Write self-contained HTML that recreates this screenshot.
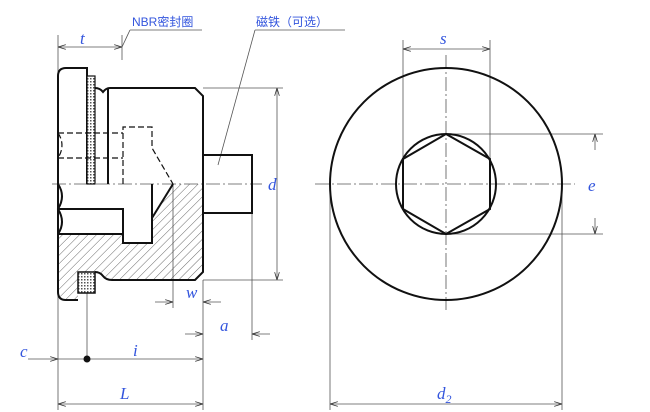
<!DOCTYPE html>
<html><head><meta charset="utf-8"><style>
html,body{margin:0;padding:0;background:#fff;}
svg{display:block;}
.t{font-family:"Liberation Serif",serif;font-style:italic;fill:#3355dd;font-size:17px;}
.c{font-family:"Liberation Sans","Noto Sans CJK SC",sans-serif;fill:#3355dd;font-size:12px;}
</style></head><body>
<svg width="650" height="412" viewBox="0 0 650 412" xmlns="http://www.w3.org/2000/svg">
<defs>
<pattern id="h" width="6" height="6" patternUnits="userSpaceOnUse" patternTransform="rotate(45)">
<line x1="0" y1="0" x2="0" y2="6" stroke="#444" stroke-width="0.8"/></pattern>
<pattern id="x" width="3" height="3" patternUnits="userSpaceOnUse">
<rect width="3" height="3" fill="#fff"/><rect width="1.5" height="1.5" fill="#555"/></pattern>
<marker id="a" viewBox="0 0 10 6" refX="10" refY="3" markerWidth="10" markerHeight="6" orient="auto-start-reverse"><path d="M0,0L10,3L0,6" fill="none" stroke="#333" stroke-width="1"/></marker>
</defs>
<g stroke="#555" stroke-width="0.8" fill="none">
<!-- extension lines left view -->
<line x1="58" y1="35" x2="58" y2="410"/><line x1="122" y1="35" x2="122" y2="60"/>
<line x1="203" y1="280" x2="203" y2="410"/><line x1="252" y1="213" x2="252" y2="340"/>
<line x1="173" y1="184" x2="173" y2="308"/>
<line x1="203" y1="88" x2="283" y2="88"/><line x1="203" y1="280" x2="283" y2="280"/>
<line x1="87" y1="293" x2="87" y2="359"/>
<line x1="58" y1="47" x2="122" y2="47" marker-start="url(#a)" marker-end="url(#a)"/>
<line x1="122" y1="47" x2="130" y2="30"/><line x1="130" y1="30" x2="202" y2="30"/>
<line x1="218" y1="165" x2="255" y2="30"/><line x1="255" y1="30" x2="345" y2="30"/>
<line x1="277" y1="88" x2="277" y2="280" marker-start="url(#a)" marker-end="url(#a)"/>
<line x1="155" y1="302" x2="173" y2="302" marker-end="url(#a)"/><line x1="221" y1="302" x2="203" y2="302" marker-end="url(#a)"/>
<line x1="203" y1="334" x2="203" y2="334"/>
<line x1="185" y1="334" x2="203" y2="334" marker-end="url(#a)"/><line x1="270" y1="334" x2="252" y2="334" marker-end="url(#a)"/>
<line x1="28" y1="359" x2="58" y2="359" marker-end="url(#a)"/>
<line x1="58" y1="359" x2="203" y2="359" marker-end="url(#a)"/>
<line x1="58" y1="404" x2="203" y2="404" marker-start="url(#a)" marker-end="url(#a)"/>
<!-- right view ext -->
<line x1="330" y1="184" x2="330" y2="410"/><line x1="562" y1="184" x2="562" y2="410"/>
<line x1="330" y1="404" x2="562" y2="404" marker-start="url(#a)" marker-end="url(#a)"/>
<line x1="403" y1="40" x2="403" y2="160"/><line x1="490" y1="40" x2="490" y2="160"/>
<line x1="403" y1="49" x2="490" y2="49" marker-start="url(#a)" marker-end="url(#a)"/>
<line x1="446" y1="134" x2="603" y2="134"/><line x1="446" y1="234" x2="603" y2="234"/>
<line x1="595" y1="150" x2="595" y2="134" marker-end="url(#a)"/><line x1="595" y1="218" x2="595" y2="234" marker-end="url(#a)"/>
<!-- center lines -->
<line x1="52" y1="184" x2="262" y2="184" stroke-dasharray="14,3,2,3"/>
<line x1="315" y1="184" x2="575" y2="184" stroke-dasharray="14,3,2,3"/>
<line x1="446" y1="55" x2="446" y2="310" stroke-dasharray="14,3,2,3"/>
</g>
<circle cx="87" cy="359" r="3.5" fill="#111"/>
<!-- hatched lower half -->
<path d="M58,184 L58,292 Q58,300 66,300 L78,300 L78,272 L95,272 Q100,272 103,276 Q106,280 112,280 L195,280 L203,272 L203,184 L173,184 L152,218 L152,243 L123,243 L123,234 L58,234 Z" fill="url(#h)"/>
<g stroke="#111" stroke-width="2" fill="none">
<path d="M58,292 L58,76 Q58,68 66,68 L87,68 L87,76"/>
<path d="M58,292 Q58,300 66,300 L78,300"/>
<path d="M95,88 Q100,88 103,92 Q106,88 110,88 L195,88 L203,96 L203,272 L195,280 L112,280 Q106,280 103,276 Q100,272 95,272"/>
<line x1="108" y1="88" x2="108" y2="184"/>
<line x1="87" y1="76" x2="87" y2="184"/>
<rect x="203" y="155" width="49" height="58"/>
<path d="M58,209 L123,209 L123,243 L152,243 L152,184"/>
<path d="M58,234 L123,234"/>
<line x1="152" y1="218" x2="173" y2="184"/>
<path d="M58,184 Q66,196 58,209 Q66,222 58,234"/>
</g>
<rect x="87" y="76" width="8" height="108" fill="url(#x)" stroke="#111" stroke-width="1.2"/>
<rect x="78" y="272" width="17" height="21" fill="url(#x)" stroke="#111" stroke-width="1.5"/>
<g stroke="#111" stroke-width="1.2" fill="none" stroke-dasharray="6,3">
<line x1="58" y1="133" x2="123" y2="133"/><line x1="58" y1="158" x2="123" y2="158"/>
<path d="M123,184 L123,127 L152,127 L152,148 L173,184"/>
<path d="M58,133 Q66,145 58,158"/>
</g>
<!-- right view -->
<g stroke="#111" stroke-width="2" fill="none">
<circle cx="446" cy="184" r="116"/>
<circle cx="446" cy="184" r="50"/>
<polygon points="446,134 490,159 490,209 446,234 403,209 403,159"/>
</g>
<text class="c" x="132" y="26">NBR密封圈</text>
<text class="c" x="256" y="26">磁铁（可选）</text>
<text class="t" x="80" y="44">t</text>
<text class="t" x="268" y="190">d</text>
<text class="t" x="186" y="298">w</text>
<text class="t" x="220" y="331">a</text>
<text class="t" x="20" y="357">c</text>
<text class="t" x="133" y="356">i</text>
<text class="t" x="120" y="399">L</text>
<text class="t" x="440" y="44">s</text>
<text class="t" x="588" y="191">e</text>
<text class="t" x="437" y="399">d<tspan font-size="12" dy="4">2</tspan></text>
</svg>
</body></html>
